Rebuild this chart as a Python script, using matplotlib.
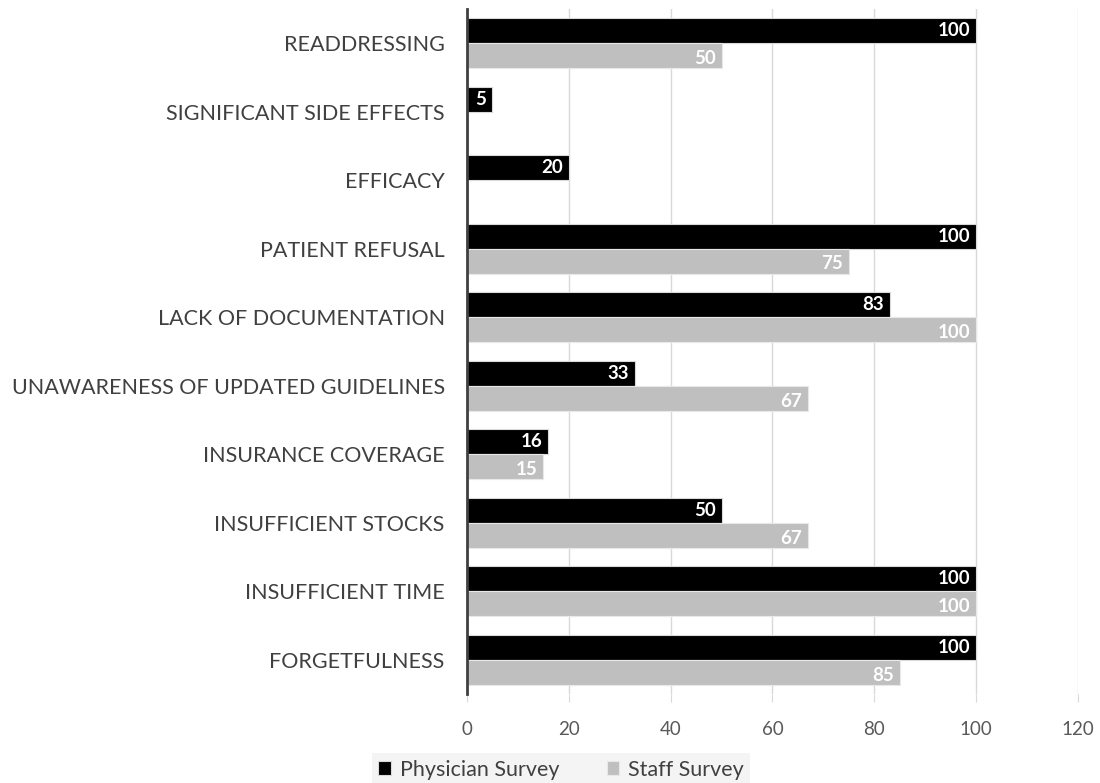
import numpy as np
import matplotlib.pyplot as plt

# ---------------------------------
# Data
# ---------------------------------
categories = ["READDRESSING", "SIGNIFICANT SIDE EFFECTS", "EFFICACY",
              "PATIENT REFUSAL", "LACK OF DOCUMENTATION",
              "UNAWARENESS OF UPDATED GUIDELINES", "INSURANCE COVERAGE",
              "INSUFFICIENT STOCKS", "INSUFFICIENT TIME", "FORGETFULNESS"]
physician = [100, 5, 20, 100, 83, 33, 16, 50, 100, 100]
staff = [50, None, None, 75, 100, 67, 15, 67, 100, 85]

plt.rcParams['font.family'] = ['Lato', 'DejaVu Sans']

fig = plt.figure(figsize=(11, 7.83), dpi=100)
ax = fig.add_axes([0.4245, 0.1133, 0.5555, 0.8756])

y = np.arange(len(categories))
h = 0.365

ax.barh(y - h / 2, physician, height=h, color="black", edgecolor="#d9d9d9",
        linewidth=0.8, label="Physician Survey", zorder=3)
staff_y = [yy for yy, v in zip(y, staff) if v is not None]
staff_v = [v for v in staff if v is not None]
ax.barh(np.array(staff_y) + h / 2, staff_v, height=h, color="#bfbfbf",
        edgecolor="#e8e8e8", linewidth=0.8, label="Staff Survey", zorder=3)

# value labels inside bar ends
for yy, v in zip(y, physician):
    ax.text(v - 1.2, yy - h / 2, str(v), color="white", fontweight="bold",
            fontsize=13.5, ha="right", va="center", zorder=4)
for yy, v in zip(staff_y, staff_v):
    ax.text(v - 1.2, yy + h / 2 + 0.04, str(v), color="white", fontweight="bold",
            fontsize=13.5, ha="right", va="center", zorder=4)

ax.set_xlim(0, 120)
ax.set_xticks(range(0, 121, 20))
ax.set_ylim(len(categories) - 0.5, -0.5)
ax.set_yticks(y)
ax.set_yticklabels(categories, fontsize=15.5, color="#404040")
ax.tick_params(axis="y", length=0, pad=16)
ax.tick_params(axis="x", length=6, color="#d9d9d9", labelcolor="#595959",
               labelsize=13.5, pad=13)

ax.grid(axis="x", color="#d9d9d9", linewidth=1, zorder=0)
for s in ["top", "right", "bottom"]:
    ax.spines[s].set_visible(False)
ax.spines["left"].set_color("#404040")
ax.spines["left"].set_linewidth(2)
ax.spines["left"].set_zorder(5)

leg = fig.legend(loc="center", bbox_to_anchor=(0.51, 0.017), ncol=2,
                 frameon=True, fontsize=15.5, handlelength=0.6, handleheight=0.6,
                 columnspacing=2.2, handletextpad=0.4, borderpad=0.3)
leg.get_frame().set_facecolor("#f2f2f2")
leg.get_frame().set_edgecolor("none")
leg.get_frame().set_boxstyle("square", pad=0)
for t in leg.get_texts():
    t.set_color("#404040")

fig.savefig("out.png", dpi=100)
